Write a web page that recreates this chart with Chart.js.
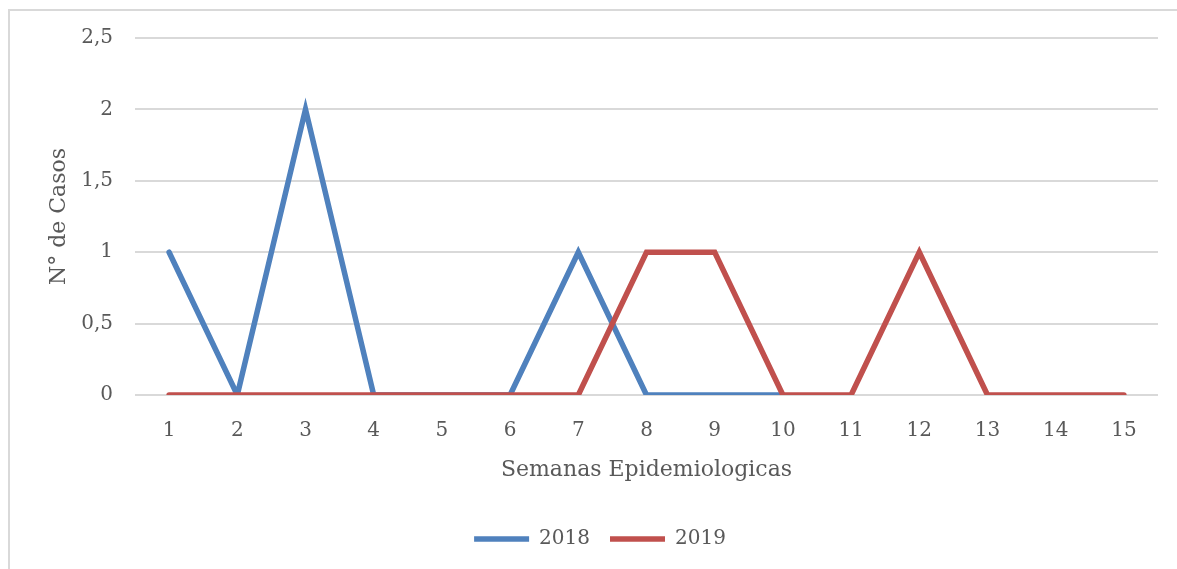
<!DOCTYPE html>
<html>
<head>
<meta charset="utf-8">
<script src="https://cdn.jsdelivr.net/npm/chart.js@4/dist/chart.umd.min.js"></script>
<style>
  body { margin: 0; background: #fff; }
  #frame { position: absolute; left: 8px; top: 9px; width: 1200px; height: 600px; border: 2px solid #d9d9d9; }
  #wrap { position: absolute; left: 0; top: 0; width: 1177px; height: 569px; }
</style>
</head>
<body>
<div id="frame"></div>
<div id="wrap"><canvas id="myChart"></canvas></div>
<script>
// weeks and cases
const semanas = ["1", "2", "3", "4", "5", "6", "7", "8", "9", "10", "11", "12", "13", "14", "15"];
const casos2018 = [1, 0, 2, 0, 0, 0, 1, 0, 0, 0];
const casos2019 = [0, 0, 0, 0, 0, 0, 0, 1, 1, 0, 0, 1, 0, 0, 0];

const fuente = "'DejaVu Serif', serif";
const gris = "#595959";

const data = {
  labels: semanas,
  datasets: [{
    label: "2018",
    data: casos2018,
    borderColor: "#4f81bd",
    backgroundColor: "#4f81bd",
    borderWidth: 5.5,
    borderCapStyle: "round",
    pointRadius: 0,
    order: 1
  }, {
    label: "2019",
    data: casos2019,
    borderColor: "#c0504d",
    backgroundColor: "#c0504d",
    borderWidth: 5.5,
    borderCapStyle: "round",
    pointRadius: 0,
    order: 0
  }]
};

const config = {
  type: "line",
  data: data,
  options: {
    responsive: true,
    maintainAspectRatio: false,
    animation: false,
    layout: { padding: { left: 42, right: 19, top: 38, bottom: 10 } },
    plugins: {
      tooltip: { enabled: false },
      legend: {
        position: "bottom",
        reverse: true,
        labels: {
          usePointStyle: true,
          pointStyle: "line",
          pointStyleWidth: 55,
          color: gris,
          font: { family: fuente, size: 20 },
          padding: 20
        }
      }
    },
    scales: {
      x: {
        offset: true,
        grid: { display: false },
        border: { display: false },
        ticks: { color: gris, font: { family: fuente, size: 20 }, padding: 16 },
        title: {
          display: true, text: "Semanas Epidemiologicas", color: gris,
          font: { family: fuente, size: 22, lineHeight: 1 }, padding: { top: 0, bottom: 28 }
        }
      },
      y: {
        min: 0,
        max: 2.5,
        afterFit: scale => { scale.width = 93; },
        grid: { color: "#d9d9d9", lineWidth: 2, drawTicks: false },
        border: { display: false },
        ticks: {
          stepSize: 0.5,
          color: gris,
          font: { family: fuente, size: 20 },
          padding: 22,
          callback: v => String(v).replace(".", ",")
        },
        title: { display: true, text: "N° de Casos", color: gris, font: { family: fuente, size: 22 } }
      }
    }
  }
};

const ctx = document.getElementById("myChart").getContext("2d");
const myChart = new Chart(ctx, config);
</script>
</body>
</html>
